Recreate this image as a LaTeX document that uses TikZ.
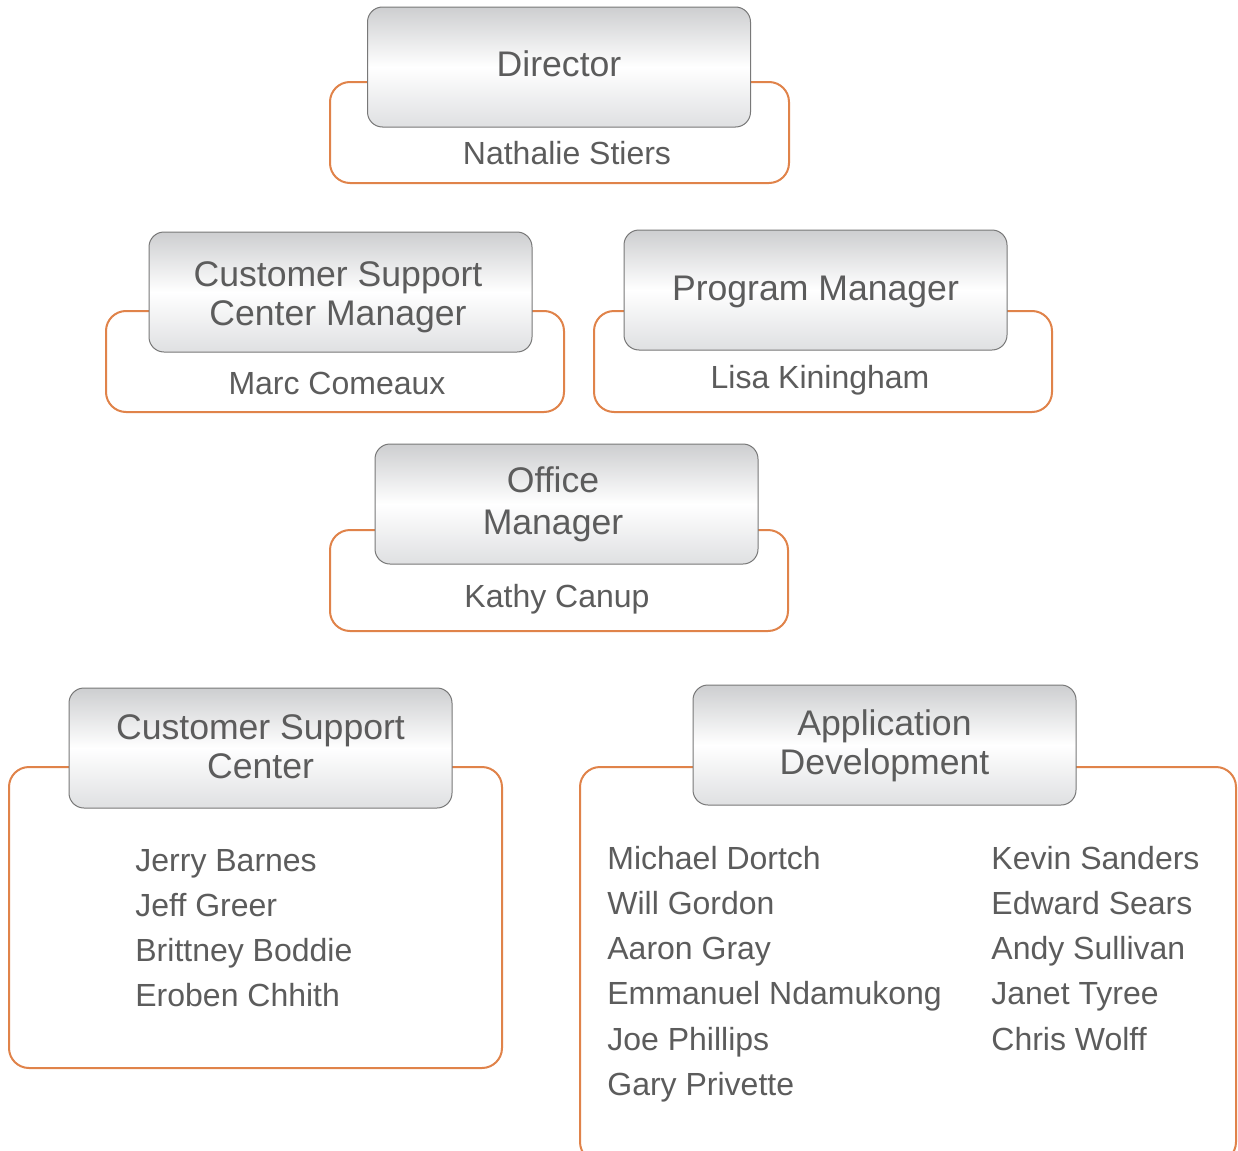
\documentclass[tikz,border=0pt]{standalone}
\usepackage{fontspec}
\setmainfont{Liberation Sans}
\definecolor{frameorange}{HTML}{E0834A}
\definecolor{boxline}{HTML}{787878}
\definecolor{textgray}{HTML}{5C5C5C}
\definecolor{shadetop}{HTML}{CDCED0}
\definecolor{shadebot}{HTML}{DFE0E2}
\begin{document}
\begin{tikzpicture}[x=0.5pt,y=-0.5pt,
  groupframe/.style={draw=frameorange, line width=1pt, rounded corners=10pt,
    fill=white, inner sep=0pt},
  titlebox/.style={draw=boxline, line width=0.5pt, rounded corners=7.5pt,
    top color=shadetop, bottom color=shadebot, middle color=white,
    minimum width=191.5pt, minimum height=60pt, inner sep=0pt},
  titletext/.style={inner sep=0pt, align=center, text=textgray,
    font=\fontsize{17.8}{19.5}\selectfont},
  person/.style={text=textgray, inner sep=0pt, font=\fontsize{16}{19}\selectfont}]
\useasboundingbox (0,0) rectangle (1238,1151);
\clip (0,0) rectangle (1238,1151);

% orange group frames (behind the title boxes)
\node[groupframe, minimum width=229.5pt, minimum height=50.5pt] (f-dir) at (559.5,132.5) {};
\node[groupframe, minimum width=229pt, minimum height=50.5pt] (f-cscm) at (335,361.5) {};
\node[groupframe, minimum width=229pt, minimum height=50.5pt] (f-pm) at (823,361.5) {};
\node[groupframe, minimum width=229pt, minimum height=50.5pt] (f-om) at (559,580.5) {};
\node[groupframe, minimum width=246.5pt, minimum height=150.5pt] (f-csc) at (255.5,917.5) {};
\node[groupframe, minimum width=328pt, minimum height=197.5pt] (f-app) at (908,964.5) {};

% shaded title boxes
\node[titlebox] (t-dir) at (559,67) {};
\node[titlebox] (t-cscm) at (340.5,292) {};
\node[titlebox] (t-pm) at (815.5,290) {};
\node[titlebox] (t-om) at (566.5,504) {};
\node[titlebox] (t-csc) at (260.5,748) {};
\node[titlebox] (t-app) at (884.5,745) {};

% titles
\node[titletext] (l-dir) at (559,64) {Director};
\node[titletext] (l-cscm) at (338,297.5) {Customer Support\\Center Manager};
\node[titletext] (l-pm) at (815.5,292) {Program Manager};
\node[titletext, font=\fontsize{17.8}{21}\selectfont] (l-om) at (553,504) {Office\\Manager};
\node[titletext] (l-csc) at (260.5,746.5) {Customer Support\\Center};
\node[titletext] (l-app) at (884.5,745.5) {Application\\Development};

% single names
\node[person] (n-dir) at (567,153) {Nathalie Stiers};
\node[person] (n-cscm) at (337,383) {Marc Comeaux};
\node[person] (n-pm) at (820,380) {Lisa Kiningham};
\node[person] (n-om) at (557,599) {Kathy Canup};

% team lists
\foreach \who [count=\i] in {Jerry Barnes, Jeff Greer, Brittney Boddie, Eroben Chhith}
  \node[person, anchor=base west] (csc-\i) at (135,{871+45.3*(\i-1)}) {\who};
\foreach \who [count=\i] in {Michael Dortch, Will Gordon, Aaron Gray, Emmanuel Ndamukong, Joe Phillips, Gary Privette}
  \node[person, anchor=base west] (appa-\i) at (607,{869+45.3*(\i-1)}) {\who};
\foreach \who [count=\i] in {Kevin Sanders, Edward Sears, Andy Sullivan, Janet Tyree, Chris Wolff}
  \node[person, anchor=base west] (appb-\i) at (991,{869+45.3*(\i-1)}) {\who};
\end{tikzpicture}
\end{document}
